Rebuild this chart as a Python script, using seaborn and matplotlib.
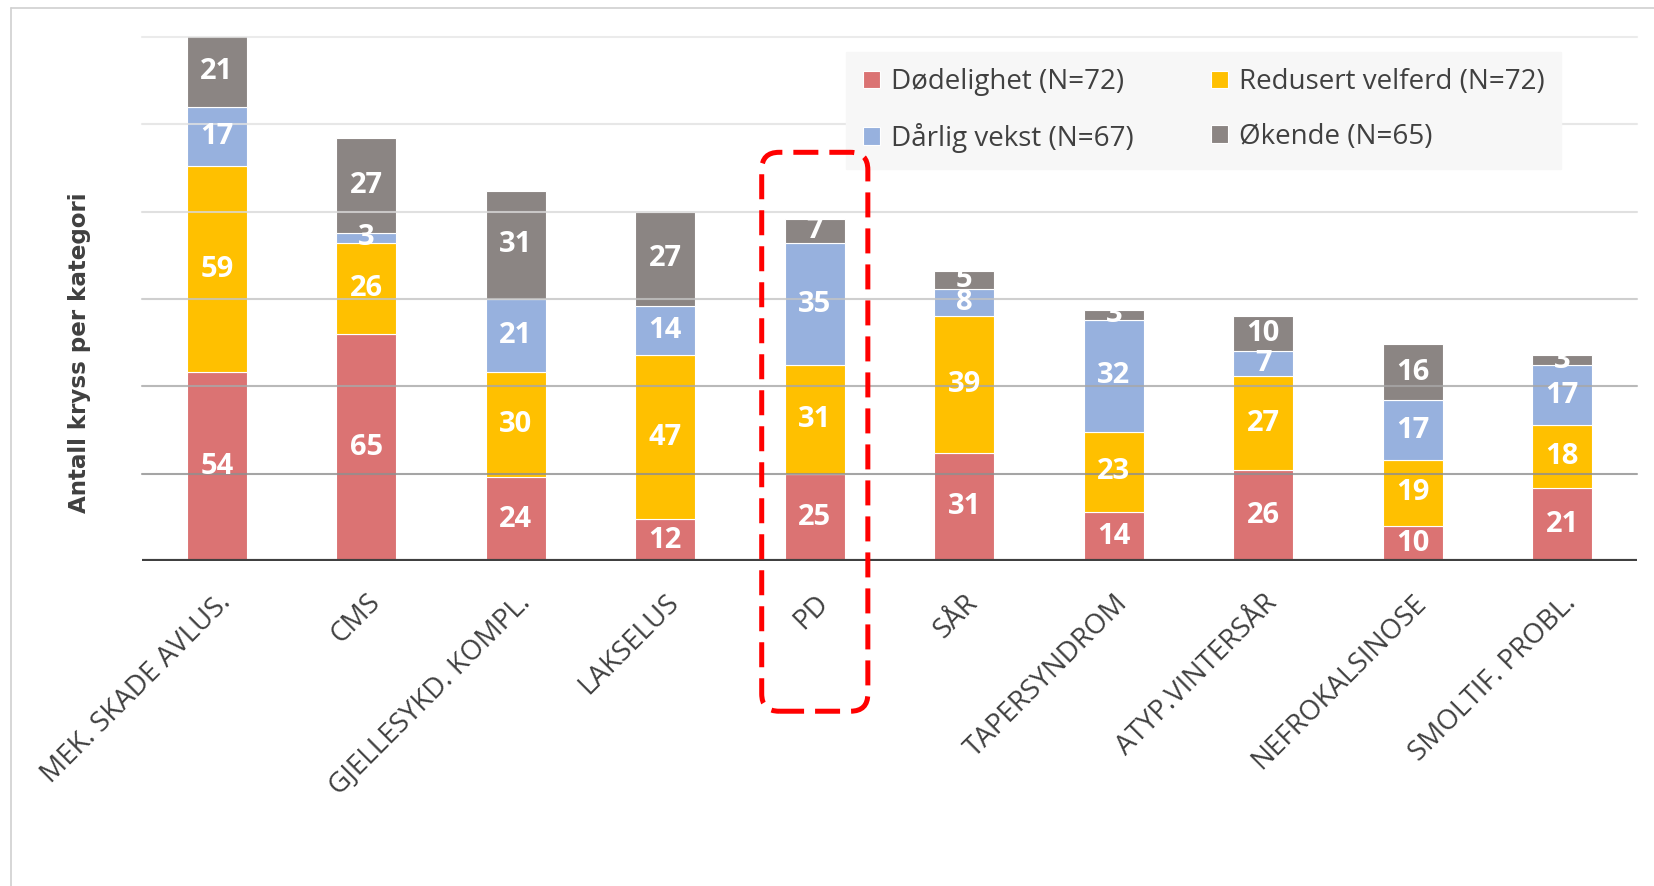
import matplotlib
matplotlib.use("Agg")
import numpy as np
import matplotlib.pyplot as plt
from matplotlib.patches import FancyBboxPatch
from matplotlib.lines import Line2D
import seaborn as sns

# ==========================================================
# DATA
# ==========================================================

categories = ["MEK. SKADE AVLUS.", "CMS", "GJELLESYKD. KOMPL.", "LAKSELUS", "PD",
              "SÅR", "TAPERSYNDROM", "ATYP.VINTERSÅR", "NEFROKALSINOSE", "SMOLTIF. PROBL."]

dodelighet = [54, 65, 24, 12, 25, 31, 14, 26, 10, 21]
redusert_velferd = [59, 26, 30, 47, 31, 39, 23, 27, 19, 18]
darlig_vekst = [17, 3, 21, 14, 35, 8, 32, 7, 17, 17]
okende = [21, 27, 31, 27, 7, 5, 3, 10, 16, 3]

series_names = ["Dødelighet (N=72)", "Redusert velferd (N=72)",
                "Dårlig vekst (N=67)", "Økende (N=65)"]
series_values = [dodelighet, redusert_velferd, darlig_vekst, okende]
series_colors = ["#DB7373", "#FFC000", "#97B1DE", "#8B8583"]

grid_levels = [25, 50, 75, 100, 125, 150]
grid_colors = ["#8f8f8f", "#a8a8a8", "#c4c4c4", "#d9d9d9", "#e2e2e2", "#e6e6e6"]

highlight = "PD"

# ==========================================================
# PLOT
# ==========================================================

sns.set_theme(style="white")
plt.rcParams['font.family'] = ['Open Sans', 'DejaVu Sans']

fig = plt.figure(figsize=(16.54, 8.86), dpi=100)
ax = fig.add_axes([0.0859, 0.3668, 0.9038, 0.5914])

bottom = np.zeros(len(categories))
for name, vals, color in zip(series_names, series_values, series_colors):
    sns.barplot(x=categories, y=vals, bottom=bottom, color=color, width=0.4,
                saturation=1, edgecolor="white", linewidth=0.8, label=name,
                ax=ax, zorder=2)
    bottom += np.array(vals)

for cont in ax.containers:
    ax.bar_label(cont, label_type="center", color="white", fontsize=21,
                 fontweight="bold", zorder=5)

ax.set_xlim(-0.5, 9.5)
ax.set_ylim(0, 150)
ax.set_yticks([])

for lvl, gc in zip(grid_levels, grid_colors):
    ax.axhline(lvl, color=gc, linewidth=1.5, alpha=0.8, zorder=3, clip_on=False)
ax.axhline(0, color="#404040", linewidth=3, zorder=4)

for side in ["top", "right", "left", "bottom"]:
    ax.spines[side].set_visible(False)

ax.tick_params(axis="x", length=0, pad=20)
ax.set_xticks(range(len(categories)))
ax.set_xticklabels(categories, rotation=45, ha="right", va="top",
                   rotation_mode="anchor", fontsize=20, color="#404040")

ax.set_ylabel("Antall kryss per kategori", family="DejaVu Sans", fontsize=16.6,
              fontweight="bold", color="#404040")
ax.yaxis.set_label_coords(-0.034, 0.398)

handles, labels = ax.get_legend_handles_labels()
order = [0, 2, 1, 3]
leg = ax.legend([handles[i] for i in order], [labels[i] for i in order],
                ncol=2, loc="upper left", bbox_to_anchor=(0.471, 0.972),
                borderaxespad=0, fontsize=20, frameon=True, fancybox=False,
                facecolor="#f7f7f7", edgecolor="#f7f7f7", handlelength=0.6,
                handleheight=0.6, handletextpad=0.4, columnspacing=2.8,
                labelspacing=0.95, borderpad=0.6)
for t in leg.get_texts():
    t.set_color("#404040")
leg.get_frame().set_alpha(1)

# dashed highlight box around PD
fig.canvas.draw()
i = categories.index(highlight)
to_fig = fig.transFigure.inverted()
x0, y0 = to_fig.transform(ax.transData.transform((i - 0.355, -43)))
x1, y1 = to_fig.transform(ax.transData.transform((i + 0.355, 117)))
box = FancyBboxPatch((x0, y0), x1 - x0, y1 - y0,
                     boxstyle="round,pad=0,rounding_size=0.0105",
                     mutation_aspect=16.54 / 8.86, transform=fig.transFigure,
                     fill=False, edgecolor="#FF0000", linewidth=3.6,
                     linestyle=(0, (5, 2.2)), zorder=10)
fig.add_artist(box)

# outer chart border (left and top)
fig.add_artist(Line2D([0.0064, 0.0064], [0, 0.9905], color="#d0d0d0",
                      linewidth=1.2, transform=fig.transFigure))
fig.add_artist(Line2D([0.0064, 1], [0.9905, 0.9905], color="#d0d0d0",
                      linewidth=1.2, transform=fig.transFigure))

fig.savefig("out.png", dpi=100)
